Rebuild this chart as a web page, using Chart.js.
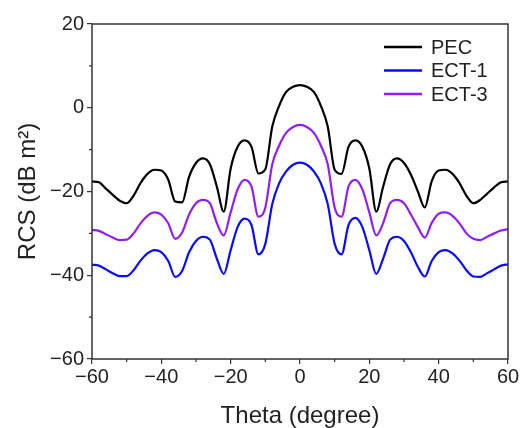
<!DOCTYPE html>
<html>
<head>
<meta charset="utf-8">
<script src="https://cdn.jsdelivr.net/npm/chart.js@4/dist/chart.umd.min.js"></script>
<style>
  body { margin: 0; background: #fff; }
  #wrap { width: 521px; height: 428px; }
</style>
</head>
<body>
<div id="wrap"><canvas id="myChart" width="521" height="428"></canvas></div>
<script>
// scan angle in degrees
const theta = [-60, -58, -56, -54, -52, -50, -48, -46, -44, -42, -40, -38, -36, -34, -32, -30,
  -28, -26, -24, -22, -20, -18, -16, -14, -12, -10, -8, -6, -4, -2, 0,
  2, 4, 6, 8, 10, 12, 14, 16, 18, 20, 22, 24, 26, 28, 30,
  32, 34, 36, 38, 40, 42, 44, 46, 48, 50, 52, 54, 56, 58, 60];

const pec = [-17.6, -17.8, -19.3, -20.8, -22.2, -22.8, -21.0, -18.0, -15.8, -14.8, -15.0, -17.2, -22.4, -22.6, -16.5, -13.2,
  -12.1, -13.5, -18.8, -24.8, -14.5, -9.3, -7.8, -9.3, -15.7, -14.7, -4.5, 0.5, 3.8, 5.0, 5.4,
  5.0, 3.8, 0.5, -4.5, -14.8, -15.8, -9.3, -7.8, -9.3, -14.5, -24.8, -18.8, -13.5, -12.1, -13.2,
  -16.0, -20.0, -23.8, -17.5, -15.0, -14.8, -15.8, -18.0, -21.0, -22.8, -22.0, -20.5, -19.0, -17.8, -17.6];

const ect1 = [-37.5, -37.7, -38.6, -39.5, -40.2, -40.2, -38.8, -36.5, -34.8, -34.0, -34.5, -36.6, -40.4, -39.0, -34.5, -31.8,
  -30.8, -31.5, -36.0, -39.7, -34.0, -28.5, -26.5, -28.0, -35.0, -32.5, -23.0, -18.0, -15.2, -13.6, -13.1,
  -13.6, -15.2, -18.0, -23.0, -32.5, -35.0, -28.0, -26.3, -28.5, -34.0, -39.7, -36.0, -31.5, -30.8, -31.8,
  -34.5, -38.0, -40.3, -36.6, -34.5, -34.0, -34.8, -36.5, -38.8, -40.3, -40.4, -39.5, -38.6, -37.7, -37.4];

const ect3 = [-29.2, -29.4, -30.2, -31.0, -31.6, -31.5, -30.0, -27.6, -25.8, -25.0, -25.5, -27.6, -31.3, -29.8, -25.5, -22.8,
  -22.0, -22.8, -27.5, -30.5, -25.0, -19.5, -17.2, -18.8, -26.0, -23.8, -13.5, -9.0, -6.0, -4.6, -4.1,
  -4.6, -6.0, -9.0, -13.5, -23.8, -26.0, -18.8, -17.2, -19.5, -25.0, -30.5, -27.5, -22.8, -22.0, -22.8,
  -25.5, -28.5, -31.0, -27.5, -25.3, -25.0, -25.8, -27.6, -30.0, -31.3, -31.6, -30.8, -30.0, -29.3, -29.0];

const seriesNames = ['PEC', 'ECT-1', 'ECT-3'];
const xTicks = [-60, -40, -20, 0, 20, 40, 60];
const yTicks = [-60, -40, -20, 0, 20];

const FONT = 'Arial, "Liberation Sans", sans-serif';
const minus = v => String(v).replace('-', '\u2212');

function pts(ys) {
  return theta.map((t, i) => ({ x: t, y: ys[i] }));
}

// frame, minor ticks and legend
const decor = {
  id: 'decor',
  afterDraw(chart) {
    const c = chart.ctx;
    const a = chart.chartArea;
    const xs = chart.scales.x, ys = chart.scales.y;
    c.save();
    c.strokeStyle = '#333';
    c.lineWidth = 1.5;
    c.strokeRect(a.left, a.top, a.right - a.left, a.bottom - a.top);

    c.lineWidth = 1.2;
    c.beginPath();
    for (let v = -50; v <= 50; v += 20) {
      const px = xs.getPixelForValue(v);
      c.moveTo(px, a.bottom); c.lineTo(px, a.bottom + 3);
    }
    for (let v = -50; v <= 10; v += 20) {
      const py = ys.getPixelForValue(v);
      c.moveTo(a.left, py); c.lineTo(a.left - 3, py);
    }
    c.stroke();

    // legend
    c.font = '20px ' + FONT;
    c.textBaseline = 'middle';
    chart.data.datasets.forEach((ds, i) => {
      const y = 47 + i * 23.5;
      c.strokeStyle = ds.borderColor;
      c.lineWidth = 2.5;
      c.beginPath();
      c.moveTo(384, y); c.lineTo(422, y);
      c.stroke();
      c.fillStyle = '#222';
      c.fillText(ds.label, 431, y + 1);
    });
    c.restore();
  }
};

new Chart(document.getElementById('myChart'), {
  type: 'line',
  data: {
    datasets: [
      { label: seriesNames[0], data: pts(pec), borderColor: '#000000' },
      { label: seriesNames[1], data: pts(ect1), borderColor: '#0a0aff' },
      { label: seriesNames[2], data: pts(ect3), borderColor: '#8f1ff5' }
    ]
  },
  options: {
    responsive: false,
    animation: false,
    layout: { padding: { top: 24, right: 13, left: 0, bottom: 0 } },
    elements: {
      point: { radius: 0 },
      line: { borderWidth: 2.2, cubicInterpolationMode: 'monotone' }
    },
    plugins: { legend: { display: false }, tooltip: { enabled: false } },
    scales: {
      x: {
        type: 'linear',
        min: -60, max: 60,
        afterBuildTicks: s => { s.ticks = xTicks.map(v => ({ value: v })); },
        afterFit: s => { s.height = 69; },
        grid: { drawOnChartArea: false, tickLength: 5, color: '#333', lineWidth: 1.2 },
        border: { display: false },
        ticks: {
          color: '#222', padding: 1, maxRotation: 0,
          font: { family: FONT, size: 20 },
          callback: v => minus(v)
        },
        title: {
          display: true, text: 'Theta (degree)', color: '#222',
          font: { family: FONT, size: 24 }, padding: { top: 4, bottom: -3 }
        }
      },
      y: {
        min: -60, max: 20,
        afterBuildTicks: s => { s.ticks = yTicks.map(v => ({ value: v })); },
        afterFit: s => { s.width = 92; },
        grid: { drawOnChartArea: false, tickLength: 5, color: '#333', lineWidth: 1.2 },
        border: { display: false },
        ticks: {
          color: '#222', padding: 3,
          font: { family: FONT, size: 20 },
          callback: v => minus(v)
        },
        title: {
          display: true, text: 'RCS (dB m\u00B2)', color: '#222',
          font: { family: FONT, size: 24 }, padding: { top: 14, bottom: 4 }
        }
      }
    }
  },
  plugins: [decor]
});
</script>
</body>
</html>
